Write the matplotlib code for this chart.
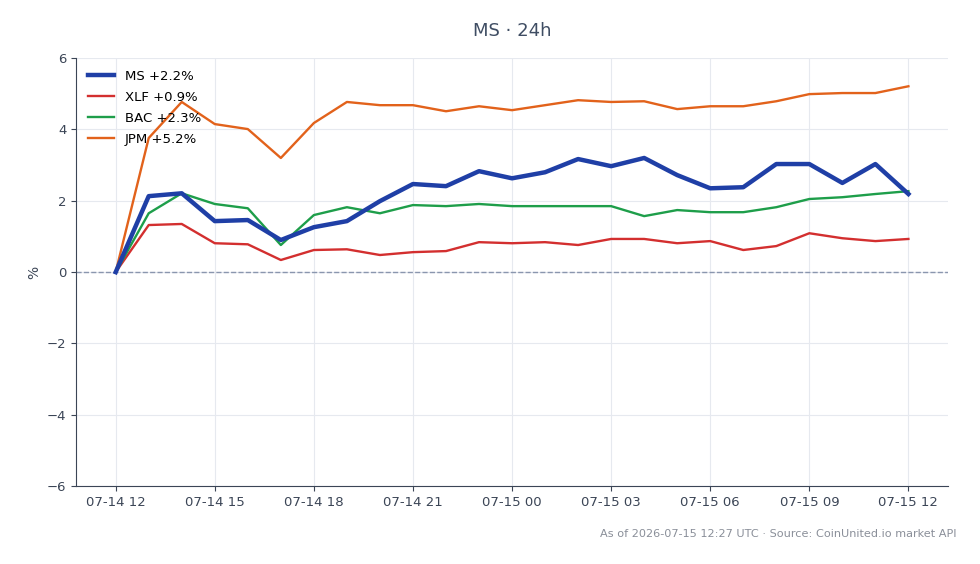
import matplotlib
matplotlib.use("Agg")
import matplotlib.pyplot as plt
import matplotlib.dates as mdates
import pandas as pd

times = pd.date_range("2026-07-14 12:00", "2026-07-15 12:00", freq="h")

ms = [0, 2.13, 2.21, 1.43, 1.46, 0.90, 1.26, 1.43, 1.99, 2.47, 2.41, 2.83, 2.63,
      2.80, 3.17, 2.97, 3.20, 2.72, 2.35, 2.38, 3.03, 3.03, 2.50, 3.03, 2.19]
xlf = [0, 1.32, 1.35, 0.81, 0.78, 0.34, 0.62, 0.64, 0.48, 0.56, 0.59, 0.84, 0.81,
       0.84, 0.76, 0.93, 0.93, 0.81, 0.87, 0.62, 0.73, 1.09, 0.95, 0.87, 0.93]
bac = [0, 1.65, 2.21, 1.91, 1.79, 0.76, 1.60, 1.82, 1.65, 1.88, 1.85, 1.91, 1.85,
       1.85, 1.85, 1.85, 1.57, 1.74, 1.68, 1.68, 1.82, 2.05, 2.10, 2.19, 2.27]
jpm = [0, 3.76, 4.77, 4.15, 4.01, 3.20, 4.18, 4.77, 4.68, 4.68, 4.51, 4.65, 4.54,
       4.68, 4.82, 4.77, 4.79, 4.57, 4.65, 4.65, 4.79, 4.99, 5.02, 5.02, 5.21]

labels = ["MS +2.2%", "XLF +0.9%", "BAC +2.3%", "JPM +5.2%"]

fig = plt.figure(figsize=(9.8, 5.64), dpi=100)
ax = fig.add_axes([0.0776, 0.138, 0.8898, 0.759])

ax.plot(times, ms, color="#1f3fa6", lw=3.2, label=labels[0], zorder=4)
ax.plot(times, xlf, color="#d32f2f", lw=1.7, label=labels[1], zorder=3)
ax.plot(times, bac, color="#1e9e4a", lw=1.7, label=labels[2], zorder=3)
ax.plot(times, jpm, color="#e2621b", lw=1.7, label=labels[3], zorder=3)
ax.axhline(0, color="#8a96ae", lw=1, ls="--", zorder=2)

ax.set_ylim(-6, 6)
ax.set_yticks([-6, -4, -2, 0, 2, 4, 6])
ax.xaxis.set_major_locator(mdates.HourLocator(byhour=range(0, 24, 3)))
ax.xaxis.set_major_formatter(mdates.DateFormatter("%m-%d %H"))
ax.grid(True, color="#e6e9ef", lw=0.8)
ax.set_axisbelow(True)
for s in ["top", "right"]:
    ax.spines[s].set_visible(False)
for s in ["left", "bottom"]:
    ax.spines[s].set_color("#3b4556")
ax.tick_params(colors="#3b4556", labelsize=9.5, labelcolor="#3b4556")
ax.set_ylabel("%", color="#3b4556", fontsize=10)

ax.set_title("MS · 24h", color="#3f4d63", fontsize=13, pad=16)
ax.legend(loc="upper left", frameon=False, fontsize=9.5, handlelength=2.0,
          borderaxespad=0.5, labelspacing=0.6)

fig.text(0.976, 0.054, "As of 2026-07-15 12:27 UTC · Source: CoinUnited.io market API",
         ha="right", va="center", fontsize=8.1, color="#8a8f99")

fig.savefig("out.png", dpi=100)
